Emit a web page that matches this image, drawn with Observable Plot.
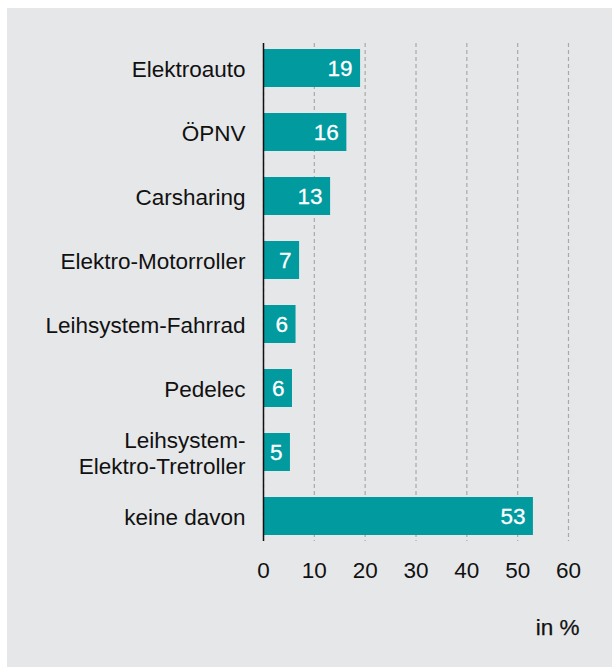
<!DOCTYPE html>
<html>
<head>
<meta charset="utf-8">
<script src="https://cdn.jsdelivr.net/npm/d3@7"></script>
<script src="https://cdn.jsdelivr.net/npm/@observablehq/plot@0.6"></script>
<style>
  html, body { margin: 0; padding: 0; background: #ffffff; }
  #chart { position: absolute; left: 7px; top: 8px; }
  #chart svg { display: block; }
</style>
</head>
<body>
<div id="chart"></div>
<script>
const categories = ["Elektroauto", "ÖPNV", "Carsharing", "Elektro-Motorroller", "Leihsystem-Fahrrad", "Pedelec", "Leihsystem-\nElektro-Tretroller", "keine davon"];
const values = [19.1, 16.4, 13.2, 7.1, 6.4, 5.7, 5.3, 53.1];
const valueLabels = ["19", "16", "13", "7", "6", "6", "5", "53"];
const xTicks = [0, 10, 20, 30, 40, 50, 60];
const unitLabel = "in %";

const data = categories.map((c, i) => ({cat: c, value: values[i], label: valueLabels[i]}));

const font = "'Liberation Sans', Arial, Helvetica, sans-serif";
const ink = "#111111";

const chart = Plot.plot({
  width: 605,
  height: 659,
  marginLeft: 256,
  marginRight: 44,
  marginTop: 35,
  marginBottom: 126,
  style: {background: "#e6e7e9", fontFamily: font, fontSize: "22px", color: ink},
  x: {domain: [0, 60]},
  y: {domain: categories, paddingInner: 0.4, paddingOuter: 0.05},
  marks: [
    Plot.gridX(xTicks, {stroke: "#a9a9a9", strokeOpacity: 1, strokeWidth: 1.2, strokeDasharray: "4,3"}),
    Plot.barX(data, {x: "value", y: "cat", fill: "#009a9f"}),
    Plot.ruleX([0], {stroke: ink, strokeWidth: 1.5}),
    Plot.text(data, {x: "value", y: "cat", text: "label", textAnchor: "end", dx: -8, fill: "white", fontSize: 22.5, stroke: "white", strokeWidth: 0.3}),
    Plot.axisY({tickSize: 0, tickPadding: 18, fontSize: 22.5, lineHeight: 1.16, label: null, fill: ink, stroke: ink, strokeWidth: 0.25}),
    Plot.axisX(xTicks, {tickSize: 0, tickPadding: 21, fontSize: 22.5, label: null, fill: ink, stroke: ink, strokeWidth: 0.25}),
    Plot.text([unitLabel], {frameAnchor: "bottom-right", textAnchor: "end", lineAnchor: "middle", dx: 11, dy: 86, fontSize: 22.5, fill: ink, stroke: ink, strokeWidth: 0.25})
  ]
});
document.getElementById("chart").appendChild(chart);
</script>
</body>
</html>
